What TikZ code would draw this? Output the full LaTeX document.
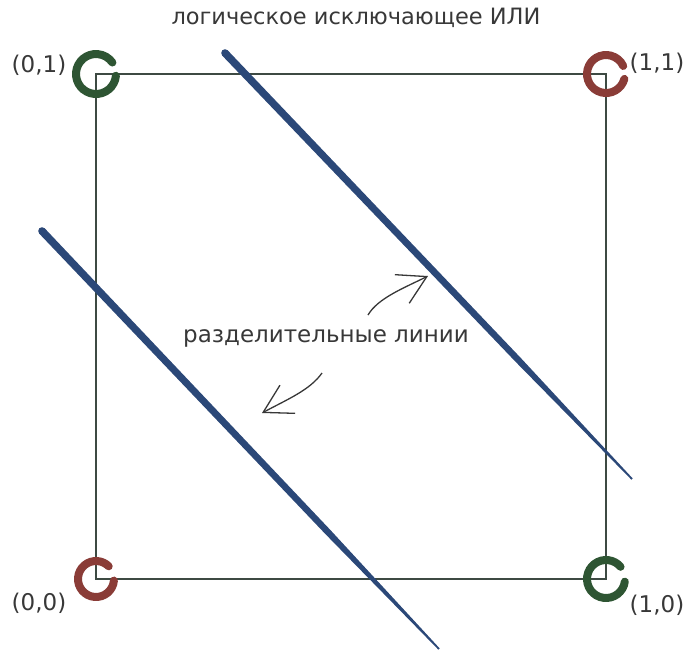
\documentclass[tikz,border=0pt]{standalone}
\usepackage{fontspec}
\setmainfont{DejaVu Sans}
\usetikzlibrary{arrows.meta,calc}
\definecolor{sqline}{HTML}{3D4A43}
\definecolor{ringgreen}{HTML}{2E5533}
\definecolor{ringred}{HTML}{8A3C37}
\definecolor{sepblue}{HTML}{2B4878}
\definecolor{ink}{HTML}{383838}
\tikzset{
  sqbox/.style={draw=sqline, line width=1.4pt},
  ring/.style={line width=8pt, line cap=round},
  lbl/.style={text=ink, font=\fontsize{23}{26}\selectfont, inner sep=0pt},
  ttl/.style={text=ink, font=\fontsize{22.5}{26}\selectfont, inner sep=0pt},
  handarrow/.style={draw=ink, line width=1.3pt, -{Straight Barb[angle=60:32pt, line width=1.3pt]}},
}
\newcommand{\sepline}[2]{%
  \coordinate (m) at ($(#1)!0.72!(#2)$);
  \fill[sepblue] ($(#1)!3.8pt!90:(#2)$) -- ($(m)!3.2pt!-90:(#1)$) -- ($(#2)!0.9pt!-90:(#1)$) -- ($(#2)!0.9pt!90:(#1)$) -- ($(m)!3.2pt!90:(#1)$) -- ($(#1)!3.8pt!-90:(#2)$) -- cycle;
  \fill[sepblue] (#1) circle[radius=3.8pt];
}
\begin{document}
\begin{tikzpicture}[x=1pt,y=-1pt]
\useasboundingbox (0,0) rectangle (690,657);
% corners
\coordinate (c01) at (96,74);
\coordinate (c11) at (606,74);
\coordinate (c00) at (96,579);
\coordinate (c10) at (606,579);
\draw[sqbox] (c01) -- (c11) -- (c10) -- (c00) -- cycle;
% separating lines
\coordinate (a1) at (225,53);
\coordinate (a2) at (632,479);
\coordinate (b1) at (42,231);
\coordinate (b2) at (439,649);
\sepline{a1}{a2}
\sepline{b1}{b2}
% rings
\draw[ring, ringgreen] ([shift={(5:20)}]c01) arc[start angle=5, end angle=325, radius=20];
\draw[ring, ringred] ([shift={(15:19)}]c11) arc[start angle=15, end angle=335, radius=19];
\draw[ring, ringred] ([shift={(5:18)}]c00) arc[start angle=5, end angle=315, radius=18];
\draw[ring, ringgreen] ([shift={(8:19)}]c10) arc[start angle=8, end angle=320, radius=19];
% labels
\node[lbl] (l01) at (39,65) {(0,1)};
\node[lbl] (l11) at (657,63) {(1,1)};
\node[lbl] (l00) at (39,603) {(0,0)};
\node[lbl] (l10) at (657,605) {(1,0)};
\node[ttl] (title) at (356,18) {логическое исключающее ИЛИ};
\node[lbl] (sep) at (326,338) {разделительные линии};
% arrows
\coordinate (s1) at (368,315);
\coordinate (t1) at (428,276);
\coordinate (s2) at (322,373);
\coordinate (t2) at (262,413);
\draw[handarrow] (s1) .. controls (378,298) and (404,288) .. (t1);
\draw[handarrow] (s2) .. controls (310,390) and (288,399) .. (t2);
\end{tikzpicture}
\end{document}
